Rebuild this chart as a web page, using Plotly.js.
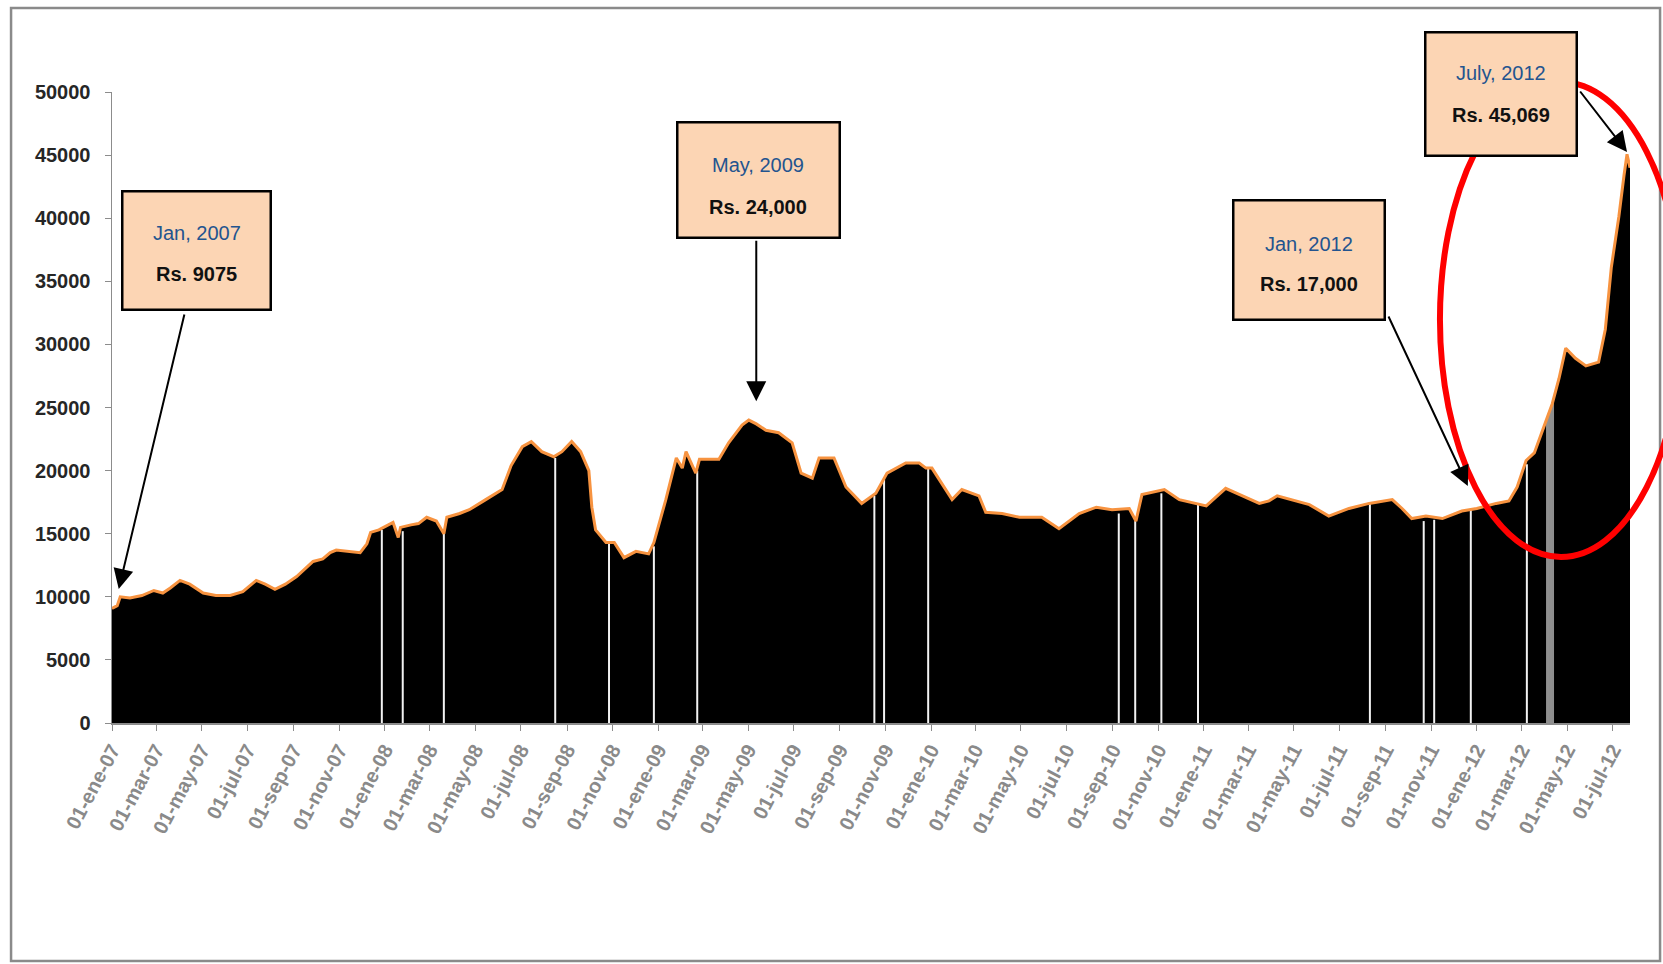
<!DOCTYPE html>
<html>
<head>
<meta charset="utf-8">
<script src="https://cdn.plot.ly/plotly-3.0.1.min.js"></script>
<style>
  html, body { margin: 0; padding: 0; background: #ffffff; }
  #chart { width: 1663px; height: 964px; }
</style>
</head>
<body>
<div id="chart"></div>
<script>
// Daily gold price (Rs.), sampled along the series
const priceDates = [
  '2007-01-01','2007-01-08','2007-01-12','2007-01-25','2007-02-10','2007-02-26','2007-03-10','2007-03-20',
  '2007-04-02','2007-04-15','2007-05-03','2007-05-20','2007-06-08','2007-06-25','2007-07-13','2007-07-25',
  '2007-08-07','2007-08-21','2007-09-05','2007-09-18','2007-09-27','2007-10-10','2007-10-20','2007-10-28',
  '2007-11-10','2007-11-29','2007-12-08','2007-12-13','2007-12-24',
  '2008-01-12','2008-01-19','2008-01-22','2008-02-05','2008-02-15','2008-02-26','2008-03-10','2008-03-20',
  '2008-03-24','2008-04-10','2008-04-23','2008-05-15','2008-06-06','2008-06-18','2008-07-03','2008-07-15',
  '2008-07-29','2008-08-14','2008-08-25','2008-09-07','2008-09-19','2008-09-30','2008-10-04','2008-10-09',
  '2008-10-23','2008-11-03','2008-11-16','2008-12-02','2008-12-19','2008-12-26',
  '2009-01-11','2009-01-25','2009-02-02','2009-02-07','2009-02-20','2009-02-25','2009-03-23','2009-04-05',
  '2009-04-23','2009-05-02','2009-05-12','2009-05-25','2009-06-11','2009-06-29','2009-07-11','2009-07-26',
  '2009-08-04','2009-08-24','2009-09-09','2009-09-30','2009-10-19','2009-11-03','2009-11-28','2009-12-16',
  '2009-12-25',
  '2010-01-02','2010-01-29','2010-02-11','2010-03-06','2010-03-15','2010-04-06','2010-04-29','2010-05-29',
  '2010-06-21','2010-07-18','2010-08-10','2010-08-31','2010-09-23','2010-10-02','2010-10-10','2010-11-09',
  '2010-11-29','2010-12-21',
  '2011-01-04','2011-01-30','2011-02-26','2011-03-16','2011-03-29','2011-04-09','2011-05-22','2011-06-17',
  '2011-07-14','2011-08-10','2011-09-10','2011-09-23','2011-10-06','2011-10-25','2011-11-16','2011-12-12',
  '2012-01-01','2012-01-27','2012-02-13','2012-02-24','2012-03-07','2012-03-18','2012-04-03','2012-04-11',
  '2012-04-20','2012-04-29','2012-05-12','2012-05-26','2012-06-12','2012-06-21','2012-06-29','2012-07-09',
  '2012-07-16','2012-07-20','2012-07-24'
];
const priceValues = [
  9075, 9300, 10000, 9900, 10100, 10500, 10300, 10700,
  11300, 11000, 10300, 10100, 10100, 10400, 11300, 11000,
  10600, 11000, 11600, 12300, 12800, 13000, 13500, 13700,
  13600, 13500, 14200, 15100, 15300,
  15900, 14700, 15500, 15700, 15800, 16300, 16000, 15000,
  16300, 16600, 16900, 17700, 18500, 20400, 21900, 22300,
  21500, 21100, 21500, 22300, 21500, 20000, 17100, 15300,
  14300, 14300, 13100, 13600, 13400, 14300,
  17700, 21000, 20200, 21500, 19800, 20900, 20900, 22200,
  23600, 24000, 23700, 23200, 23000, 22200, 19800, 19400,
  21000, 21000, 18700, 17400, 18200, 19800, 20600, 20600,
  20200,
  20200, 17700, 18500, 18000, 16700, 16600, 16300, 16300,
  15400, 16600, 17100, 16900, 17000, 16000, 18100, 18500,
  17700, 17400,
  17200, 18600, 17900, 17400, 17600, 18000, 17300, 16400,
  17000, 17400, 17700, 17000, 16200, 16400, 16200, 16800,
  17000, 17400, 17600, 18700, 20800, 21400, 24000, 25300,
  27300, 29700, 28900, 28300, 28600, 31200, 36100, 40100,
  43400, 45069, 44000
];

// Market holidays with no quote (blank days in the series) and the price level around them
const gapDates = [
  '2007-12-28','2008-01-25','2008-03-20','2008-08-16','2008-10-27','2008-12-26','2009-02-22',
  '2009-10-17','2009-10-30','2009-12-28','2010-09-09','2010-10-01','2010-11-05','2010-12-24',
  '2011-08-11','2011-10-22','2011-11-05','2011-12-24','2012-03-08'
];
const gapLevels = [
  15300, 15200, 15000, 21000, 14300, 14000, 20000,
  18000, 19300, 20200, 16600, 16000, 18200, 17300,
  17500, 16000, 16100, 17000, 20500
];
const bandDates = ['2012-04-04','2012-04-06','2012-04-08','2012-04-10','2012-04-12'];
const bandLevels = [24000, 24400, 24900, 25200, 25500];

// Axis ticks: first day of every second month
const tickDates = [
  '2007-01-01','2007-03-01','2007-05-01','2007-07-01','2007-09-01','2007-11-01',
  '2008-01-01','2008-03-01','2008-05-01','2008-07-01','2008-09-01','2008-11-01',
  '2009-01-01','2009-03-01','2009-05-01','2009-07-01','2009-09-01','2009-11-01',
  '2010-01-01','2010-03-01','2010-05-01','2010-07-01','2010-09-01','2010-11-01',
  '2011-01-01','2011-03-01','2011-05-01','2011-07-01','2011-09-01','2011-11-01',
  '2012-01-01','2012-03-01','2012-05-01','2012-07-01'
];
const tickLabels = [
  '01-ene-07','01-mar-07','01-may-07','01-jul-07','01-sep-07','01-nov-07',
  '01-ene-08','01-mar-08','01-may-08','01-jul-08','01-sep-08','01-nov-08',
  '01-ene-09','01-mar-09','01-may-09','01-jul-09','01-sep-09','01-nov-09',
  '01-ene-10','01-mar-10','01-may-10','01-jul-10','01-sep-10','01-nov-10',
  '01-ene-11','01-mar-11','01-may-11','01-jul-11','01-sep-11','01-nov-11',
  '01-ene-12','01-mar-12','01-may-12','01-jul-12'
];

// Callouts: the point each one marks and its two text lines
const calloutX = ['2007-01-10', '2009-05-12', '2011-12-20', '2012-07-20'];
const calloutY = [10620, 25500, 18780, 45245];
const calloutDates = ['Jan, 2007', 'May, 2009', 'Jan, 2012', 'July, 2012'];
const calloutPrices = ['Rs. 9075', 'Rs. 24,000', 'Rs. 17,000', 'Rs. 45,069'];

const FONT = '"Liberation Sans", Arial, sans-serif';

// Placement of each callout relative to its point, in pixels (screen y grows downward)
const calloutGeom = [
  { box: [78, -338], size: [151, 121], tail: [66, -276], l1: -356, l2: -315 },
  { box: [2, -221], size: [165, 118], tail: [0, -162], l1: -236, l2: -194 },
  { box: [-159, -226], size: [154, 122], tail: [-80, -171], l1: -242, l2: -202 },
  { box: [-126, -58], size: [154, 126], tail: [-48, -62], l1: -79, l2: -37 }
];

function segments(dates, levels) {
  const xs = [], ys = [];
  dates.forEach((d, i) => { xs.push(d, d, null); ys.push(0, levels[i], null); });
  return { xs, ys };
}
const gapSeg = segments(gapDates, gapLevels);
const bandSeg = segments(bandDates, bandLevels);

const traces = [
  {
    type: 'scatter', mode: 'lines', x: priceDates, y: priceValues,
    fill: 'tozeroy', fillcolor: '#000000', line: { width: 0, color: '#000000' },
    hoverinfo: 'skip'
  },
  {
    type: 'scatter', mode: 'lines', x: gapSeg.xs, y: gapSeg.ys,
    line: { color: '#f2f2f2', width: 2 }, connectgaps: false, hoverinfo: 'skip'
  },
  {
    type: 'scatter', mode: 'lines', x: bandSeg.xs, y: bandSeg.ys,
    line: { color: '#8f8f8f', width: 2 }, connectgaps: false, hoverinfo: 'skip'
  },
  {
    type: 'scatter', mode: 'lines', x: priceDates, y: priceValues,
    line: { color: '#f79340', width: 3 }, hoverinfo: 'skip'
  }
];

const annotations = [];
calloutGeom.forEach((g, i) => {
  const base = { x: calloutX[i], y: calloutY[i], xref: 'x', yref: 'y' };
  // arrow from the box edge to the marked point
  annotations.push(Object.assign({}, base, {
    text: '', showarrow: true, ax: g.tail[0], ay: g.tail[1],
    arrowhead: 2, arrowsize: 2, arrowwidth: 2, arrowcolor: '#000000', standoff: 0
  }));
  // peach box
  annotations.push(Object.assign({}, base, {
    text: '&nbsp;', showarrow: false, xanchor: 'center', yanchor: 'middle',
    xshift: g.box[0], yshift: -g.box[1],
    width: g.size[0] - 5, height: g.size[1] - 5,
    bgcolor: '#fcd5b4', bordercolor: '#000000', borderwidth: 2.5, borderpad: 0,
    font: { family: FONT, size: 10 }
  }));
  // month line
  annotations.push(Object.assign({}, base, {
    text: calloutDates[i], showarrow: false, xanchor: 'center', yanchor: 'middle',
    xshift: g.box[0], yshift: -g.l1,
    font: { family: FONT, size: 20, color: '#23548f' }
  }));
  // price line
  annotations.push(Object.assign({}, base, {
    text: '<b>' + calloutPrices[i] + '</b>', showarrow: false, xanchor: 'center', yanchor: 'middle',
    xshift: g.box[0], yshift: -g.l2,
    font: { family: FONT, size: 20, color: '#111111' }
  }));
});

const layout = {
  width: 1663, height: 964,
  margin: { l: 112, r: 33, t: 92, b: 241, pad: 0 },
  paper_bgcolor: '#ffffff', plot_bgcolor: '#ffffff',
  showlegend: false,
  xaxis: {
    type: 'date', range: ['2007-01-01', '2012-07-24'],
    tickmode: 'array', tickvals: tickDates, ticktext: tickLabels, tickangle: -62,
    ticks: 'outside', ticklen: 6, tickcolor: '#8c8c8c', tickwidth: 1,
    showline: true, linecolor: '#8c8c8c', linewidth: 1.5,
    showgrid: false, zeroline: false,
    tickfont: { family: FONT, size: 20, color: '#8a8a8a', weight: 'bold' }
  },
  yaxis: {
    range: [0, 50000], tick0: 0, dtick: 5000, tickformat: 'd',
    ticks: 'outside', ticklen: 6, tickcolor: '#8c8c8c', tickwidth: 1,
    ticklabelstandoff: 10,
    showline: true, linecolor: '#8c8c8c', linewidth: 1.5,
    showgrid: false, zeroline: false,
    tickfont: { family: FONT, size: 20, color: '#262626', weight: 'bold' }
  },
  shapes: [
    {
      type: 'rect', xref: 'paper', yref: 'paper',
      x0: -0.0665, x1: 1.0198, y0: -0.377, y1: 1.1331,
      line: { color: '#8a8a8a', width: 2.5 }, layer: 'below'
    },
    {
      type: 'circle', xref: 'paper', yref: 'paper',
      x0: 0.8748, x1: 1.0343, y0: 0.2631, y1: 1.0158,
      line: { color: '#ff0000', width: 6 }, layer: 'above'
    }
  ],
  annotations: annotations
};

Plotly.newPlot('chart', traces, layout, { displayModeBar: false, staticPlot: true });
</script>
</body>
</html>
